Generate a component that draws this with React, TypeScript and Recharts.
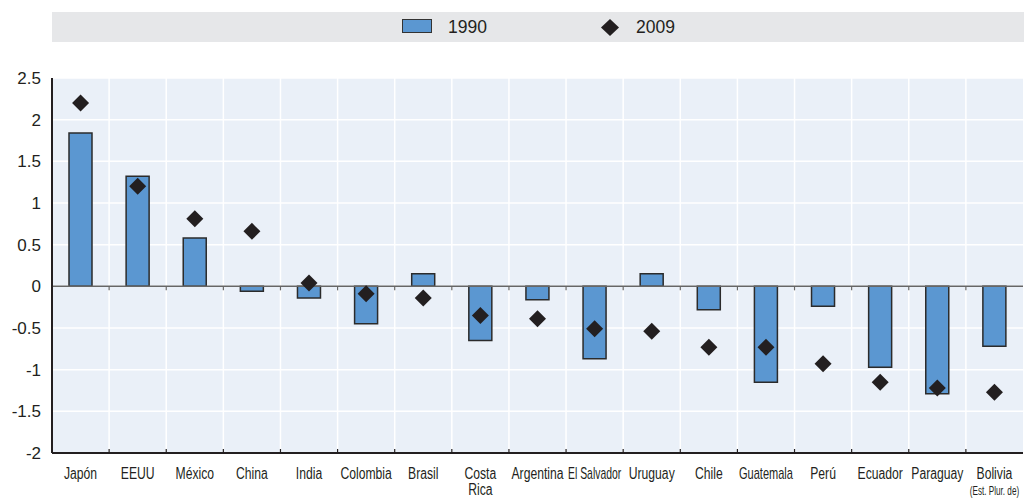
import React from "react"
import {
	ComposedChart,
	Bar,
	Scatter,
	XAxis,
	YAxis,
	CartesianGrid,
	ReferenceLine,
} from "recharts"

const countries = [
	"Japón",
	"EEUU",
	"México",
	"China",
	"India",
	"Colombia",
	"Brasil",
	"Costa Rica",
	"Argentina",
	"El Salvador",
	"Uruguay",
	"Chile",
	"Guatemala",
	"Perú",
	"Ecuador",
	"Paraguay",
	"Bolivia (Est. Plur. de)",
]
const values1990 = [
	1.84, 1.32, 0.58, -0.06, -0.14, -0.45, 0.15, -0.65, -0.16, -0.87, 0.15, -0.28,
	-1.15, -0.24, -0.97, -1.29, -0.72,
]
const values2009 = [
	2.2, 1.2, 0.81, 0.66, 0.04, -0.09, -0.14, -0.35, -0.39, -0.51, -0.54, -0.73,
	-0.73, -0.93, -1.15, -1.22, -1.27,
]
const yTicks = [-2, -1.5, -1, -0.5, 0, 0.5, 1, 1.5, 2, 2.5]

const FONT = "'Liberation Sans', Arial, sans-serif"
const BAR_FILL = "#5b97d1"
const TEXT = "#231f20"

const data = countries.map((name, i) => ({
	name,
	v1990: values1990[i],
	v2009: values2009[i],
}))

// condensed text: squeeze horizontally around x
const Condensed = ({ x, y, size, children, sx = 0.76 }: any) => (
	<text
		x={0}
		y={0}
		textAnchor="middle"
		fontSize={size}
		fill={TEXT}
		fontFamily={FONT}
		transform={`translate(${x},${y}) scale(${sx},1)`}
	>
		{children}
	</text>
)

const XTick = (props: any) => {
	const { x, y, payload } = props
	const label: string = payload.value
	let lines: { t: string; size: number; sx?: number }[] = [{ t: label, size: 16 }]
	if (label === "Costa Rica") {
		lines = [
			{ t: "Costa", size: 16 },
			{ t: "Rica", size: 16 },
		]
	} else if (label.startsWith("Bolivia")) {
		lines = [
			{ t: "Bolivia", size: 16 },
			{ t: "(Est. Plur. de)", size: 12, sx: 0.68 },
		]
	} else if (label === "El Salvador") {
		lines = [{ t: label, size: 16, sx: 0.65 }]
	} else if (label === "Guatemala") {
		lines = [{ t: label, size: 16, sx: 0.69 }]
	}
	return (
		<g>
			{lines.map((l, i) => (
				<Condensed key={i} x={x} y={y + 18 + i * 16} size={l.size} sx={l.sx}>
					{l.t}
				</Condensed>
			))}
		</g>
	)
}

const Diamond = (props: any) => {
	const { cx, cy } = props
	const r = 8.5
	return (
		<polygon
			points={`${cx},${cy - r} ${cx + r},${cy} ${cx},${cy + r} ${cx - r},${cy}`}
			fill="#231f20"
		/>
	)
}

// horizontal line with small ticks on the category borders
const TickedLine = (props: any) => {
	const { x1, x2, y1, stroke, tickDir } = props
	const n = countries.length
	const step = (x2 - x1) / n
	const ticks = []
	for (let i = 1; i < n; i++) {
		const tx = x1 + i * step
		ticks.push(
			<line key={i} x1={tx} x2={tx} y1={y1} y2={y1 + tickDir * 4} stroke={stroke} strokeWidth={1.2} />
		)
	}
	return (
		<g>
			<line x1={x1} x2={x2} y1={y1} y2={y1} stroke={stroke} strokeWidth={props.strokeWidth} />
			{ticks}
		</g>
	)
}

const Legend = () => (
	<div
		style={{
			position: "absolute",
			left: 52,
			top: 12,
			width: 972,
			height: 30,
			background: "#e6e7e9",
			fontFamily: FONT,
			fontSize: 17.5,
			color: TEXT,
		}}
	>
		<div
			style={{
				position: "absolute",
				left: 350,
				top: 7,
				width: 28,
				height: 12,
				background: BAR_FILL,
				border: "1.5px solid #333",
			}}
		/>
		<span style={{ position: "absolute", left: 396, top: 5, lineHeight: "20px" }}>1990</span>
		<svg style={{ position: "absolute", left: 548, top: 6 }} width={20} height={19}>
			<polygon points="10,1 19,9.5 10,18 1,9.5" fill="#231f20" />
		</svg>
		<span style={{ position: "absolute", left: 584, top: 5, lineHeight: "20px" }}>2009</span>
	</div>
)

export default function App() {
	return (
		<div style={{ position: "absolute", left: 0, top: 0, width: 1024, height: 499, background: "#fff" }}>
			<Legend />
			<ComposedChart
				width={1024}
				height={499}
				data={data}
				margin={{ top: 78, right: 1, bottom: 0, left: 0 }}
				style={{ position: "absolute", left: 0, top: 0 }}
			>
				<CartesianGrid
					stroke="#ffffff"
					strokeWidth={1.5}
					fill="#eaf0f8"
					verticalCoordinatesGenerator={({ offset }: any) =>
						countries.slice(1).map((_, i) => offset.left + ((i + 1) * offset.width) / countries.length)
					}
				/>
				<XAxis
					dataKey="name"
					interval={0}
					axisLine={false}
					tickLine={false}
					tick={<XTick />}
					height={46}
				/>
				<YAxis
					domain={[-2, 2.5]}
					ticks={yTicks}
					width={52}
					axisLine={{ stroke: "#231f20", strokeWidth: 2 }}
					tickLine={false}
					tick={{ fontSize: 17, fill: TEXT, fontFamily: FONT }}
					tickMargin={5}
				/>
				<ReferenceLine
					y={-2}
					stroke="#231f20"
					strokeWidth={2}
					shape={(p: any) => <TickedLine {...p} tickDir={-1} />}
				/>
				<Bar
					dataKey="v1990"
					name="1990"
					fill={BAR_FILL}
					stroke="#2b2b2b"
					strokeWidth={1.5}
					barSize={23}
					isAnimationActive={false}
				/>
				<ReferenceLine
					y={0}
					stroke="#666"
					strokeWidth={1.5}
					shape={(p: any) => <TickedLine {...p} tickDir={1} />}
				/>
				<Scatter
					dataKey="v2009"
					name="2009"
					shape={<Diamond />}
					isAnimationActive={false}
				/>
			</ComposedChart>
		</div>
	)
}
